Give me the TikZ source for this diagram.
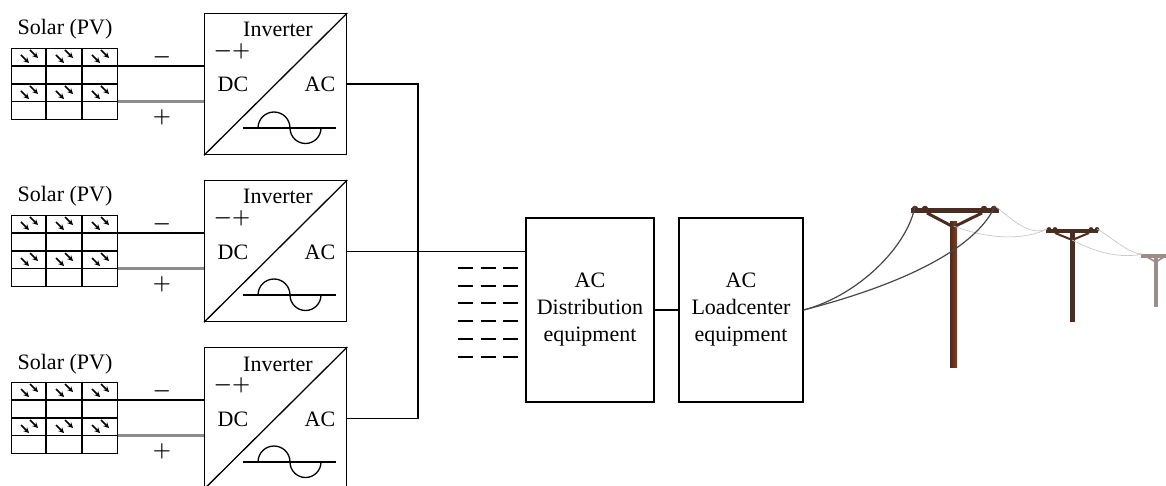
\documentclass[tikz,border=0pt]{standalone}
\usepackage{fontspec}
\setmainfont{Liberation Serif}
\usetikzlibrary{arrows.meta}

\definecolor{polebrown}{HTML}{4A2C20}
\definecolor{polerust}{HTML}{8B3A17}
\definecolor{polegray}{HTML}{9C8C8A}

\tikzset{
  box/.style={draw, line width=1.3pt, inner sep=0pt},
  lbl/.style={font=\fontsize{22}{27}\selectfont, inner sep=0pt},
  sign/.style={font=\fontsize{22}{27}\selectfont\boldmath, inner sep=0pt},
  wire/.style={line width=1.3pt},
  dcneg/.style={line width=2.6pt},
  dcpos/.style={line width=2.6pt, draw=black!45},
  ray/.style={line width=1.7pt, -{Stealth[length=5.5pt,width=5.5pt]}},
  feeder/.style={line width=1.2pt, draw=black!72},
  span/.style={line width=0.7pt, draw=black!22},
}

\begin{document}
\begin{tikzpicture}[x=1pt,y=-1pt]
    \useasboundingbox (0,0) rectangle (1166,486);

    % three PV strings, each with its own inverter
    \foreach \i/\off in {1/13,2/180,3/347}{
    \begin{scope}[shift={(0,\off)}]
        \node[lbl, anchor=base] (pvname\i) at (65,22) {Solar (PV)};
        \node[box, minimum width=106pt, minimum height=71pt, anchor=north west] (pv\i) at (11,35) {};
        \draw[wire] (11,53) -- (117,53) (11,71) -- (117,71) (11,88.5) -- (117,88.5)
                    (46,35) -- (46,106) (82,35) -- (82,106);
        \foreach \cx in {11,46,82}
            \foreach \cy in {35,71}{
                \draw[ray] (\cx+10,\cy+7) -- ++(8,8);
                \draw[ray] (\cx+19,\cy+2) -- ++(8,8);
            }

        \node[box, minimum width=142pt, minimum height=141pt, anchor=north west] (inv\i) at (204,0) {};
        \draw[wire] (inv\i.south west) -- (inv\i.north east);
        \node[lbl, anchor=base] (invname\i) at (278,24) {Inverter};
        \node[sign] (pol\i) at (232,38) {$-+$};
        \node[lbl, anchor=base] (dc\i) at (233,79) {DC};
        \node[lbl, anchor=base] (ac\i) at (320,79) {AC};
        \draw[wire] (243,115) -- (336,115);
        \draw[wire] (258,115) arc (180:0:16pt) arc (180:360:15.5pt);

        \draw[dcneg] (pv\i.east |- {(0,53)}) -- (inv\i.west |- {(0,53)});
        \draw[dcpos] (pv\i.east |- {(0,88.5)}) -- (inv\i.west |- {(0,88.5)});
        \node[sign] (neg\i) at (162,44) {$-$};
        \node[sign] (pos\i) at (162,104) {$+$};
    \end{scope}
    }

    \node[box, lbl, align=center, minimum width=128pt, minimum height=184pt] (dist) at (590,310) {AC\\Distribution\\equipment};
    \node[box, lbl, align=center, minimum width=124pt, minimum height=184pt] (load) at (741,310) {AC\\Loadcenter\\equipment};

    % AC collection bus
    \coordinate (bus) at (418,0);
    \draw[wire] (inv1.east) -| (bus |- inv3.east) -- (inv3.east);
    \draw[wire] (inv2.east) -- (dist.west |- inv2.east);
    \draw[wire] (dist) -- (load);

    % more strings
    \foreach \y in {268,286,303,321,339,357}
        \draw[wire, dash pattern=on 15pt off 7.5pt] (458,\y) -- (518,\y);

    % utility poles
    \shade[left color=polebrown, right color=polerust] (950,222) rectangle (957,367);
    \fill[polebrown] (911,208) rectangle (999,213.5);
    \foreach \u in {915,925,984,994} \fill[polebrown] (\u,209) circle (3.3pt);
    \draw[polebrown, line width=3pt] (927,213) -- (953.5,227) -- (982,213);
    \coordinate (p1l) at (915,206);
    \coordinate (p1r) at (995,206);
    \coordinate (p1c) at (953.5,226);

    \fill[polebrown] (1070,231) rectangle (1074.5,322);
    \fill[polebrown] (1046,229) rectangle (1098,233);
    \foreach \u in {1049,1055,1091,1097} \fill[polebrown] (\u,229.5) circle (2.4pt);
    \draw[polebrown, line width=2pt] (1055,233) -- (1072.2,240) -- (1089,233);
    \coordinate (p2l) at (1047,229);
    \coordinate (p2r) at (1097,229);
    \coordinate (p2c) at (1072.2,240);

    \fill[polegray] (1154,256) rectangle (1157.5,307);
    \fill[polegray] (1141,254) rectangle (1166,257.5);
    \draw[polegray, line width=1.6pt] (1147,257) -- (1155.7,262) -- (1164,257);
    \coordinate (p3l) at (1142,254);

    \draw[span] (p1r) .. controls (1015,222) and (1030,236) .. (p2l);
    \draw[span] (p1c) .. controls (990,240) and (1025,240) .. (p2l);
    \draw[span] (p2r) .. controls (1115,240) and (1130,254) .. (p3l);
    \draw[span] (p2c) .. controls (1100,255) and (1125,258) .. (p3l);

    % service drop
    \draw[feeder] (load.east) .. controls (860,295) and (908,245) .. (p1l);
    \draw[feeder] (load.east) .. controls (900,285) and (975,250) .. (p1r);
\end{tikzpicture}
\end{document}
